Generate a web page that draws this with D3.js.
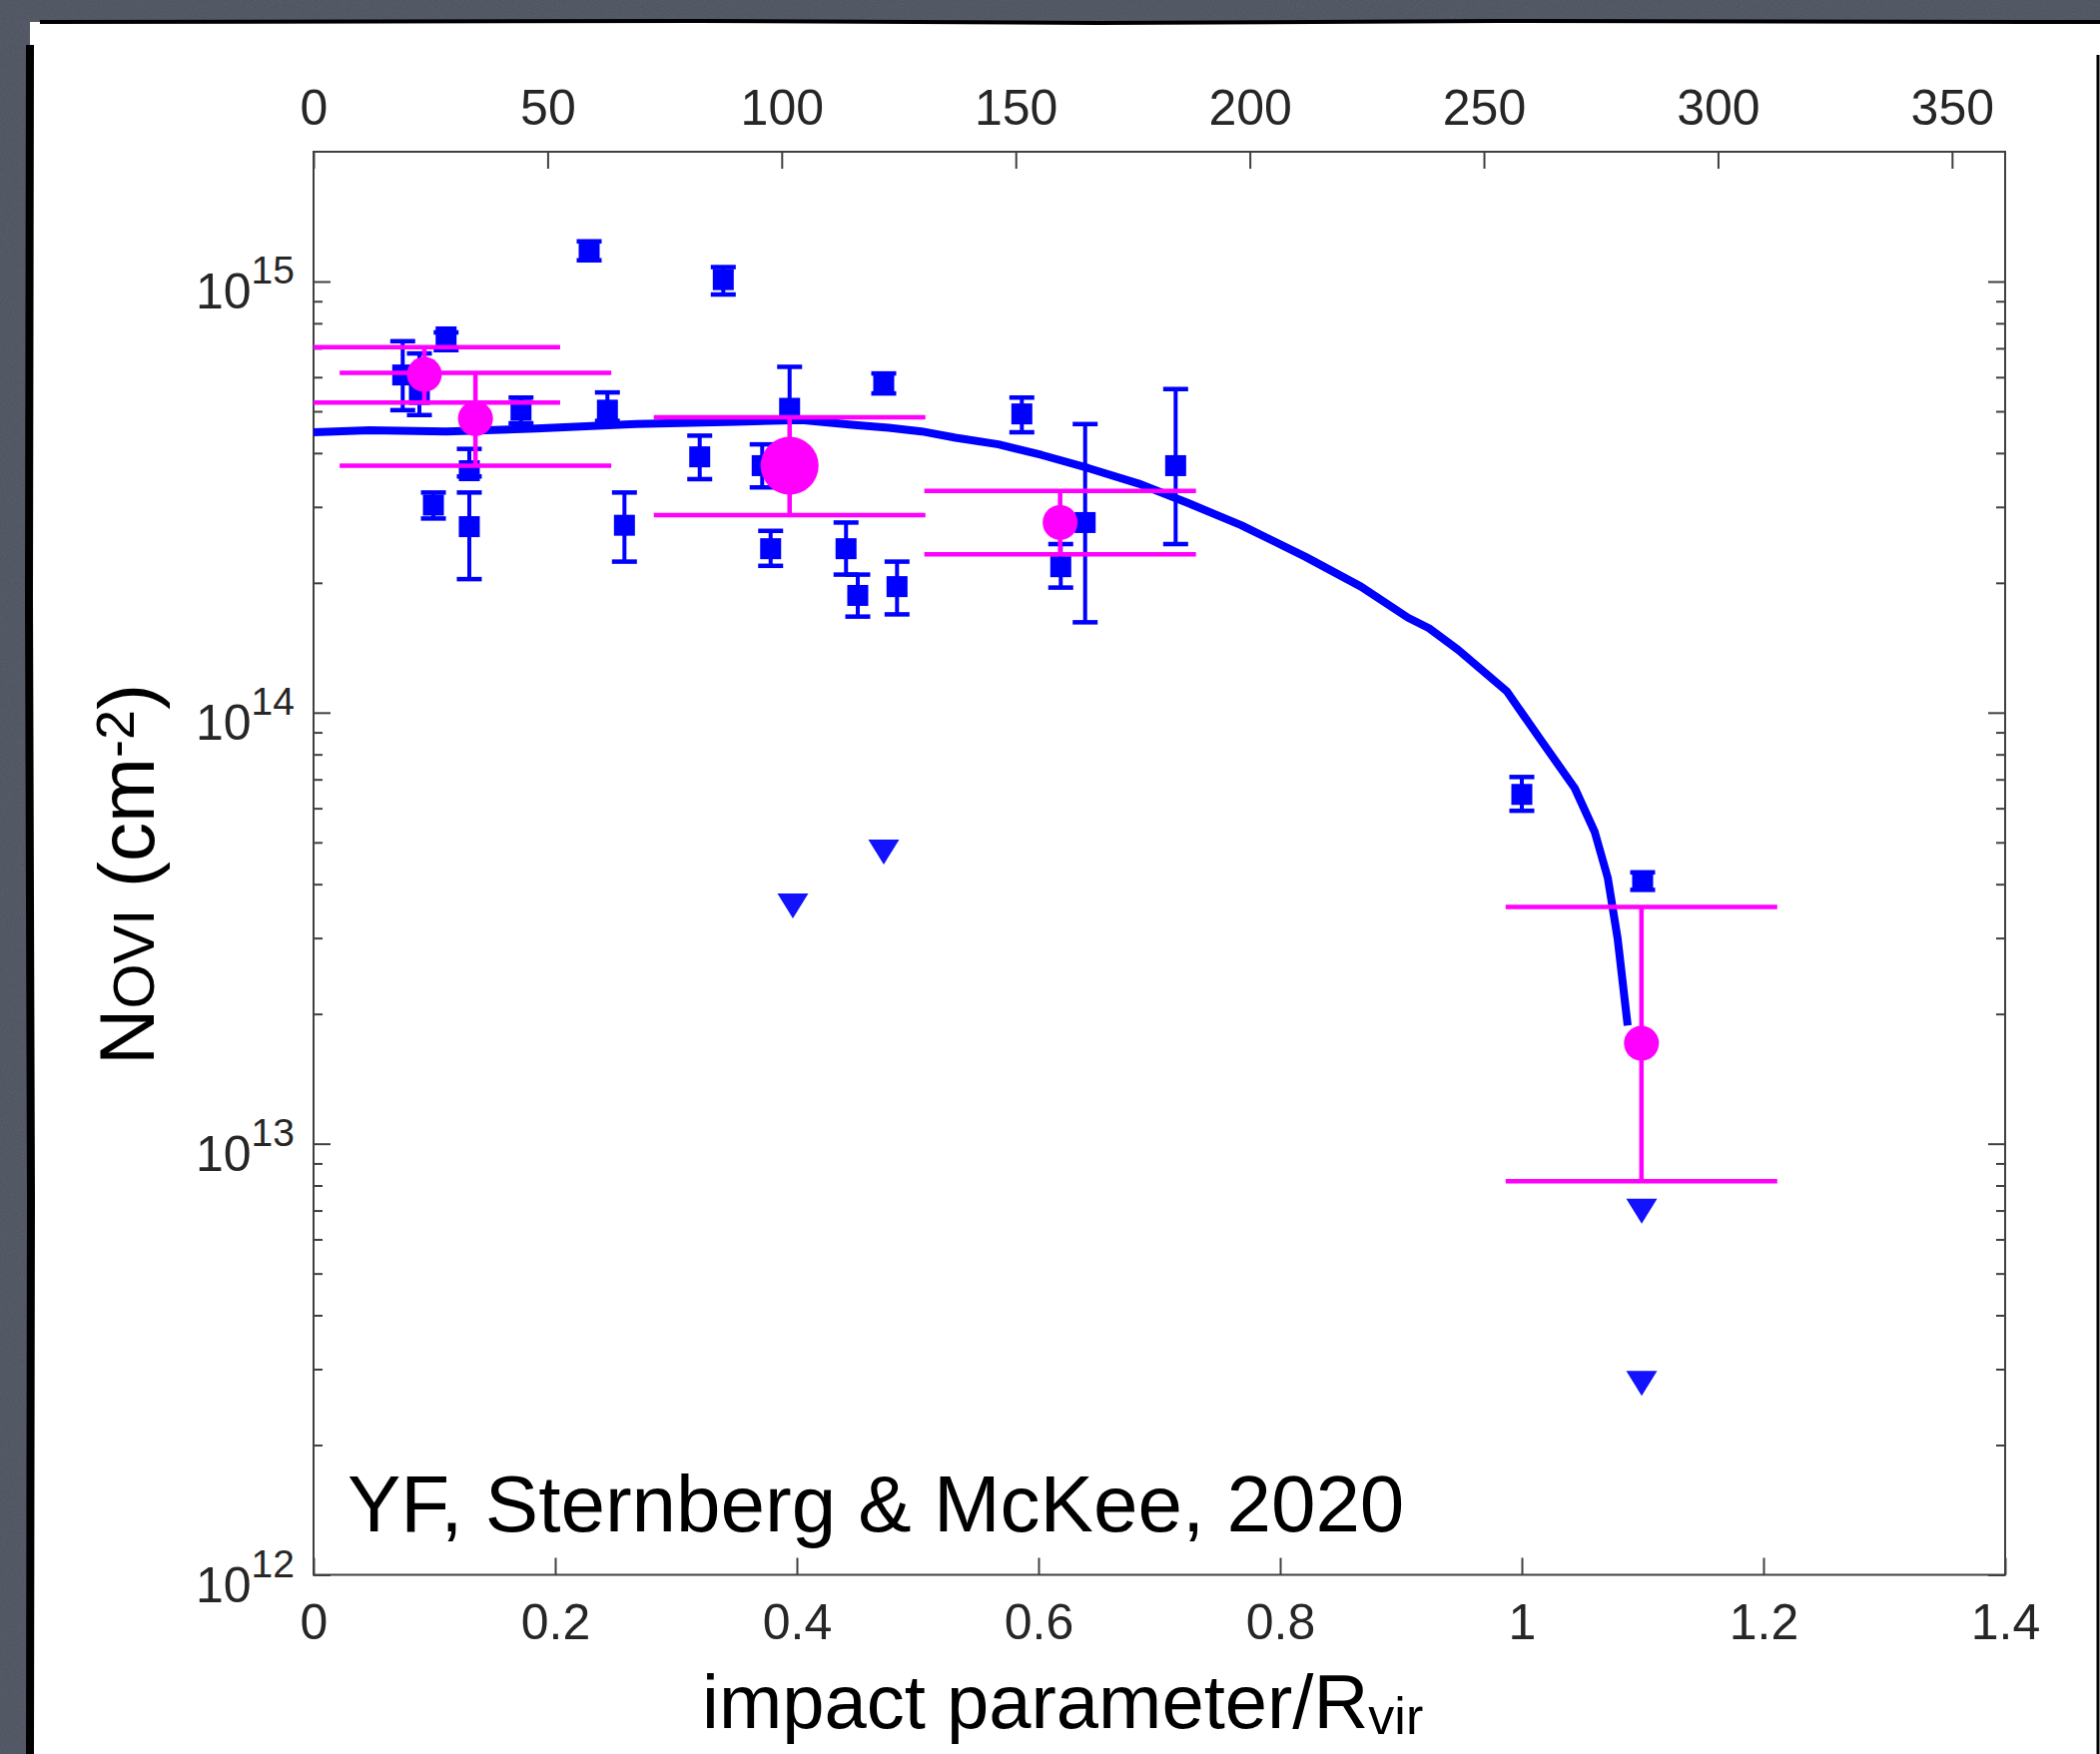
<!DOCTYPE html>
<html>
<head>
<meta charset="utf-8">
<script src="https://cdn.jsdelivr.net/npm/d3@7"></script>
<style>
body { margin: 0; background: #4d5260; overflow: hidden; }
text { font-family: "Liberation Sans", Arial, Helvetica, sans-serif; }
</style>
</head>
<body>
<svg id="chart" width="2103" height="1757"></svg>
<script>
// observed O VI columns (blue squares with errors), x = impact parameter / Rvir
var obsX  = [0.0738, 0.0876, 0.0992, 0.1097, 0.1289, 0.1289, 0.1717, 0.2281, 0.2432, 0.2573, 0.3196, 0.3391, 0.3713,
             0.3783, 0.3940, 0.4407, 0.4504, 0.4719, 0.4829, 0.5862, 0.6184, 0.6386, 0.7135, 1.0000, 1.1000];
var obsN  = [6.07e14, 5.47e14, 3.03e14, 7.44e14, 3.64e14, 2.70e14, 5.03e14, 1.18e15, 5.03e14, 2.72e14, 3.92e14, 1.01e15, 3.74e14,
             2.40e14, 5.08e14, 2.40e14, 1.87e14, 5.78e14, 1.96e14, 4.93e14, 2.18e14, 2.76e14, 3.74e14, 6.46e13, 4.07e13];
var obsLo = [5.03e14, 4.90e14, 2.82e14, 6.93e14, 3.53e14, 2.04e14, 4.69e14, 1.12e15, 4.75e14, 2.24e14, 3.48e14, 9.33e14, 3.33e14,
             2.19e14, 4.81e14, 2.09e14, 1.67e14, 5.50e14, 1.69e14, 4.47e14, 1.95e14, 1.62e14, 2.46e14, 5.92e13, 3.88e13];
var obsHi = [7.27e14, 6.81e14, 3.24e14, 7.62e14, 4.09e14, 3.24e14, 5.38e14, 1.24e15, 5.53e14, 3.24e14, 4.39e14, 1.08e15, 4.19e14,
             2.64e14, 6.34e14, 2.76e14, 2.09e14, 6.12e14, 2.24e14, 5.38e14, 2.46e14, 4.67e14, 5.63e14, 7.09e13, 4.26e13];

// upper limits (down triangles)
var limX = [0.3967, 0.4719, 1.0992, 1.0992];
var limN = [3.56e13, 4.75e13, 6.97e12, 2.78e12];

// stacked / binned values (magenta)
var stackX  = [0.0917, 0.1340, 0.3940, 0.6179, 1.0990];
var stackN  = [6.09e14, 4.81e14, 3.74e14, 2.76e14, 1.71e13];
var stackLo = [5.24e14, 3.74e14, 2.87e14, 2.33e14, 8.18e12];
var stackHi = [7.04e14, 6.14e14, 4.84e14, 3.27e14, 3.54e13];
var stackMain = [false, false, true, false, false];

// model curve
var curveX = [0, 0.0463, 0.1099, 0.1843, 0.2669, 0.3496, 0.4041, 0.4455, 0.4760, 0.5033, 0.5314, 0.5669, 0.6025, 0.6413,
              0.6826, 0.7240, 0.7678, 0.8207, 0.8669, 0.9058, 0.9231, 0.9471, 0.9876, 1.0157, 1.0438, 1.0603, 1.0711,
              1.0793, 1.0876];
var curveN = [4.47e14, 4.52e14, 4.49e14, 4.56e14, 4.67e14, 4.73e14, 4.77e14, 4.65e14, 4.58e14, 4.49e14, 4.34e14, 4.19e14,
              3.96e14, 3.69e14, 3.40e14, 3.06e14, 2.72e14, 2.30e14, 1.96e14, 1.66e14, 1.57e14, 1.40e14, 1.12e14, 8.64e13,
              6.68e13, 5.29e13, 4.14e13, 2.99e13, 1.88e13];

// axes
var rvir = 258.1; // kpc, for the top axis
var bottomTicks = [0, 0.2, 0.4, 0.6, 0.8, 1, 1.2, 1.4];
var topTicks = [0, 50, 100, 150, 200, 250, 300, 350];
var majorY = [1e12, 1e13, 1e14, 1e15];

var width = 2103, height = 1757;
var L = 314, R = 2008, T = 152, B = 1577.5;

var x = d3.scaleLinear().domain([0, 1.4]).range([L, R]);
var xTop = d3.scaleLinear().domain([0, 1.4 * rvir]).range([L, R]);
var y = d3.scaleLog().domain([1e12, 2e15]).range([B, T]);

var minorY = [];
[1e12, 1e13, 1e14, 1e15].forEach(function(d) {
  for (var k = 2; k <= 9; k++) if (d * k < 2e15) minorY.push(d * k);
});

var svg = d3.select('#chart');
var defs = svg.append('defs');

// slide background with a bit of grain
var grain = defs.append('filter').attr('id', 'grain')
    .attr('x', 0).attr('y', 0).attr('width', '100%').attr('height', '100%');
grain.append('feTurbulence').attr('type', 'fractalNoise').attr('baseFrequency', 0.7)
    .attr('numOctaves', 2).attr('seed', 4);
grain.append('feColorMatrix').attr('type', 'saturate').attr('values', 0);

svg.append('rect').attr('width', width).attr('height', height).attr('fill', '#4d5260');
svg.append('rect').attr('width', width).attr('height', height)
    .attr('filter', 'url(#grain)').attr('opacity', 0.12);

// white panel with sketchy black border
svg.append('rect').attr('x', 30).attr('y', 22).attr('width', width - 30).attr('height', height - 22)
    .attr('fill', '#ffffff');
svg.append('path').attr('d', 'M40,22 L700,21 L1100,23 L1500,21 L2103,22')
    .attr('stroke', '#000').attr('stroke-width', 4).attr('fill', 'none');
svg.append('path').attr('d', 'M30,45 L29,600 L31,1200 L30,1757')
    .attr('stroke', '#000').attr('stroke-width', 8).attr('fill', 'none');
svg.append('path').attr('d', 'M2101,55 L2101,1757')
    .attr('stroke', '#000').attr('stroke-width', 3).attr('fill', 'none');

defs.append('clipPath').attr('id', 'plotclip')
  .append('rect').attr('x', L).attr('y', T).attr('width', R - L).attr('height', B - T);

var axisColor = '#404040', labelColor = '#262626';

function styleAxis(g) {
  g.select('.domain').remove();
  g.selectAll('.tick line').attr('stroke', axisColor).attr('stroke-width', 2);
  g.selectAll('.tick text').attr('fill', labelColor).attr('font-size', 50)
    .attr('font-family', '"Liberation Sans", Arial, sans-serif');
}

// bottom axis
svg.append('g').attr('transform', 'translate(0,' + B + ')')
    .call(d3.axisBottom(x).tickValues(bottomTicks).tickSize(-17).tickPadding(29)
      .tickFormat(function(d) { return d3.format('~g')(d); }))
    .call(styleAxis);

// top axis (kpc)
svg.append('g').attr('transform', 'translate(0,' + T + ')')
    .call(d3.axisTop(xTop).tickValues(topTicks).tickSize(-17).tickPadding(27))
    .call(styleAxis);

// left axis, majors with 10^n labels
var yl = svg.append('g').attr('transform', 'translate(' + L + ',0)')
    .call(d3.axisLeft(y).tickValues(majorY).tickSize(-17).tickPadding(19).tickFormat(function() { return ''; }))
    .call(styleAxis);
yl.selectAll('.tick text')
    .attr('dy', null).attr('y', 27)
    .each(function(d) {
      var t = d3.select(this);
      t.append('tspan').text('10');
      t.append('tspan').attr('dy', -25).attr('font-size', 39).text(Math.round(Math.log10(d)));
    });
svg.append('g').attr('transform', 'translate(' + L + ',0)')
    .call(d3.axisLeft(y).tickValues(minorY).tickSize(-9).tickFormat(function() { return ''; }))
    .call(styleAxis);

// right axis ticks
svg.append('g').attr('transform', 'translate(' + R + ',0)')
    .call(d3.axisRight(y).tickValues(majorY).tickSize(-17).tickFormat(function() { return ''; }))
    .call(styleAxis);
svg.append('g').attr('transform', 'translate(' + R + ',0)')
    .call(d3.axisRight(y).tickValues(minorY).tickSize(-9).tickFormat(function() { return ''; }))
    .call(styleAxis);

// box
svg.append('rect').attr('x', L).attr('y', T).attr('width', R - L).attr('height', B - T)
    .attr('fill', 'none').attr('stroke', axisColor).attr('stroke-width', 2);

var plot = svg.append('g').attr('clip-path', 'url(#plotclip)');

// observed points
var blue = '#0000ff';
var obs = obsX.map(function(d, i) { return {x: d, n: obsN[i], lo: obsLo[i], hi: obsHi[i]}; });
var og = plot.append('g').selectAll('g').data(obs).enter().append('g');
og.append('line')
    .attr('x1', function(d) { return x(d.x); }).attr('x2', function(d) { return x(d.x); })
    .attr('y1', function(d) { return y(d.lo); }).attr('y2', function(d) { return y(d.hi); })
    .attr('stroke', blue).attr('stroke-width', 4);
['lo', 'hi'].forEach(function(k) {
  og.append('line')
      .attr('x1', function(d) { return x(d.x) - 12.5; }).attr('x2', function(d) { return x(d.x) + 12.5; })
      .attr('y1', function(d) { return y(d[k]); }).attr('y2', function(d) { return y(d[k]); })
      .attr('stroke', blue).attr('stroke-width', 4.5);
});
og.append('rect')
    .attr('x', function(d) { return x(d.x) - 10.5; }).attr('y', function(d) { return y(d.n) - 10.5; })
    .attr('width', 21).attr('height', 21).attr('fill', blue);

// upper limits
var lims = limX.map(function(d, i) { return {x: d, n: limN[i]}; });
plot.append('g').selectAll('path').data(lims).enter().append('path')
    .attr('d', 'M-15.5,-12.5L15.5,-12.5L0,12.5Z')
    .attr('transform', function(d) { return 'translate(' + x(d.x) + ',' + y(d.n) + ')'; })
    .attr('fill', '#1212ff');

// model
var line = d3.line()
    .x(function(d) { return x(d[0]); })
    .y(function(d) { return y(d[1]); });
plot.append('path')
    .datum(curveX.map(function(d, i) { return [d, curveN[i]]; }))
    .attr('d', line)
    .attr('fill', 'none').attr('stroke', blue).attr('stroke-width', 8)
    .attr('stroke-linejoin', 'round');

// stacked values
var magenta = '#ff00ff';
var st = stackX.map(function(d, i) { return {x: d, n: stackN[i], lo: stackLo[i], hi: stackHi[i], main: stackMain[i]}; });
var sg = plot.append('g').selectAll('g').data(st).enter().append('g');
sg.append('line')
    .attr('x1', function(d) { return x(d.x); }).attr('x2', function(d) { return x(d.x); })
    .attr('y1', function(d) { return y(d.lo); }).attr('y2', function(d) { return y(d.hi); })
    .attr('stroke', magenta).attr('stroke-width', 4.5);
['lo', 'hi'].forEach(function(k) {
  sg.append('line')
      .attr('x1', function(d) { return x(d.x) - 136; }).attr('x2', function(d) { return x(d.x) + 136; })
      .attr('y1', function(d) { return y(d[k]); }).attr('y2', function(d) { return y(d[k]); })
      .attr('stroke', magenta).attr('stroke-width', 4.5);
});
sg.append('circle')
    .attr('cx', function(d) { return x(d.x); }).attr('cy', function(d) { return y(d.n); })
    .attr('r', function(d) { return d.main ? 29 : 17.5; })
    .attr('fill', magenta);

// labels
svg.append('text').attr('x', 348).attr('y', 1534).attr('font-size', 80).attr('fill', '#000')
    .text('YF, Sternberg & McKee, 2020');

var xl = svg.append('text').attr('x', 703).attr('y', 1731).attr('font-size', 76).attr('fill', '#000');
xl.append('tspan').text('impact parameter/R');
xl.append('tspan').attr('dy', 6).attr('font-size', 52).text('vir');

var ylab = svg.append('text').attr('transform', 'translate(154,876) rotate(-90)')
    .attr('text-anchor', 'middle').attr('font-size', 78).attr('fill', '#000');
ylab.append('tspan').text('N');
ylab.append('tspan').attr('font-size', 58).text('OVI');
ylab.append('tspan').text(' (cm');
ylab.append('tspan').attr('dy', -20).attr('font-size', 54).text('-2');
ylab.append('tspan').attr('dy', 20).text(')');
</script>
</body>
</html>
